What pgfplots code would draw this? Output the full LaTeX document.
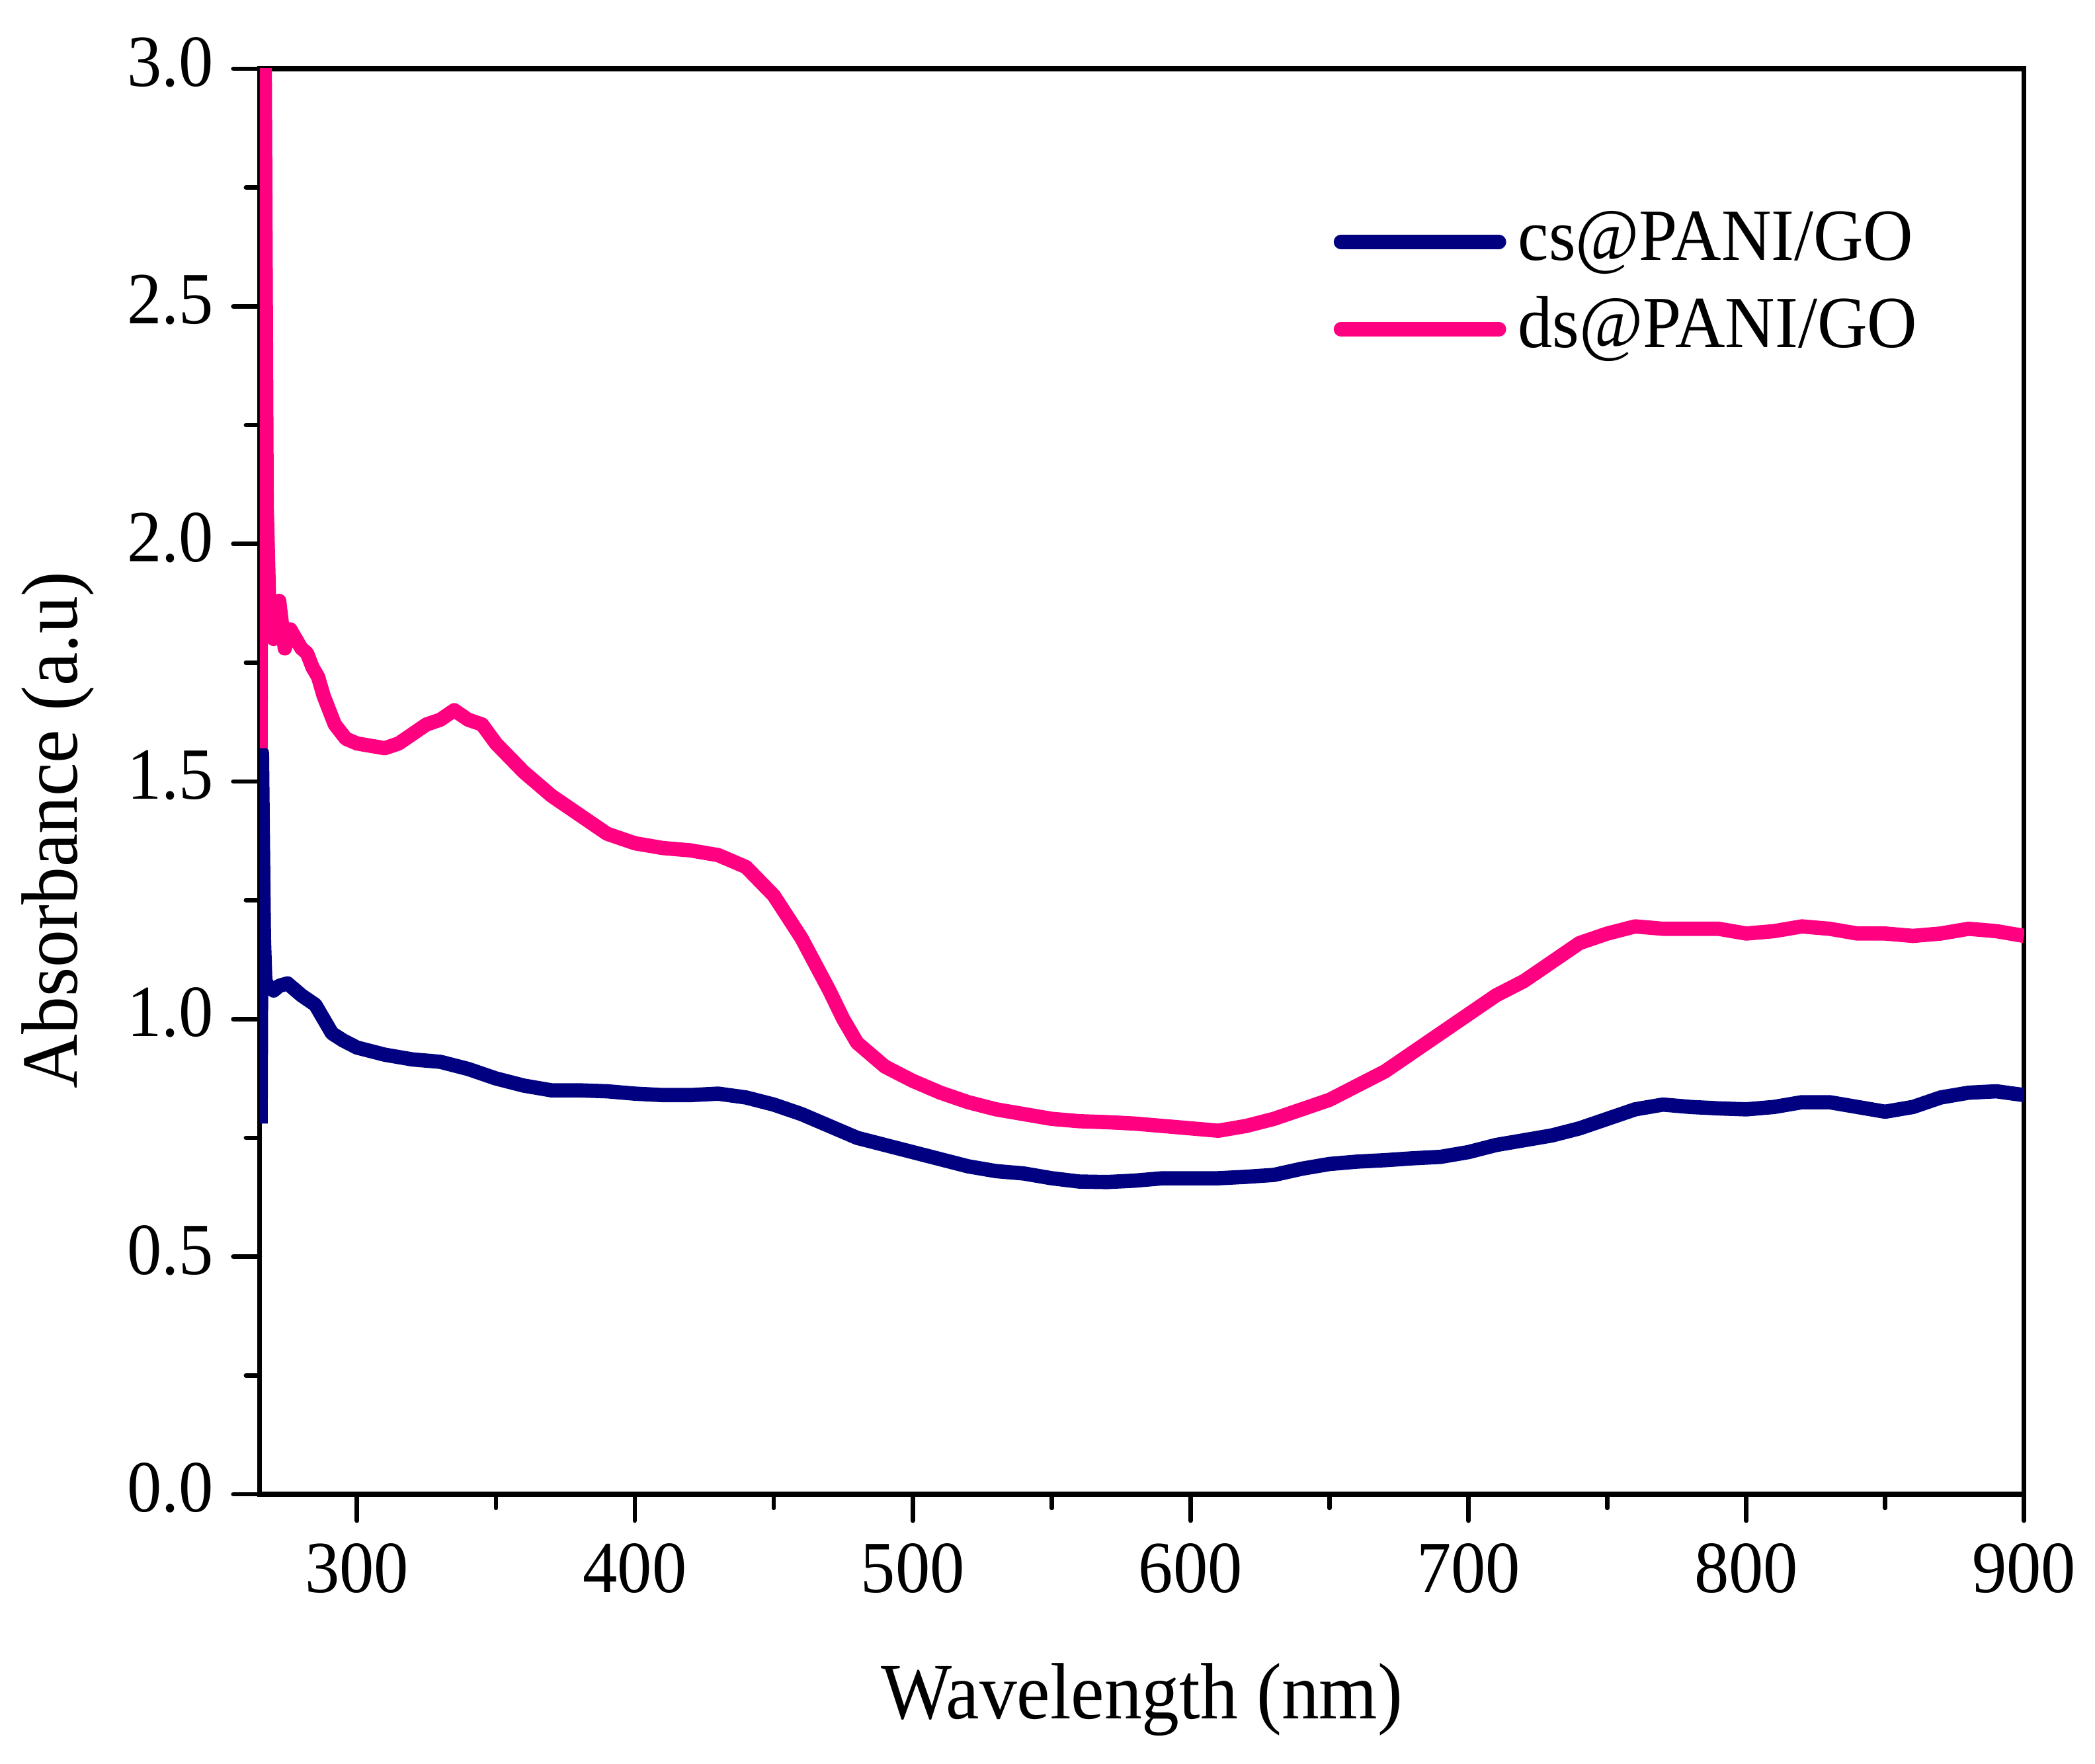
\documentclass[border=0pt]{standalone}
\usepackage{pgfplots}
\pgfplotsset{compat=1.18}
\usepackage{fontspec}
\setmainfont{Liberation Serif}[FakeStretch=0.94]
\definecolor{csblue}{RGB}{0,0,128}
\definecolor{dspink}{RGB}{255,0,128}
\begin{document}
\begin{tikzpicture}
  \begin{axis}[
    width=333.5pt, height=269.5pt, scale only axis,
    xmin=265, xmax=900, ymin=0, ymax=3,
    xtick={300,400,...,900}, ytick={0,0.5,...,3},
    minor xtick={350,450,...,850},
    minor ytick={0.25,0.75,...,2.75},
    axis line style={line width=0.9pt},
    every tick/.style={line width=0.85pt, black, line cap=round},
    tick align=outside,
    xtick pos=bottom, ytick pos=left,
    major tick length=5pt, minor tick length=2.6pt,
    /pgf/number format/assume math mode=true,
    yticklabel style={/pgf/number format/fixed, /pgf/number format/fixed zerofill,
      /pgf/number format/precision=1, font=\fontsize{13.9}{16}\selectfont,
      inner sep=0pt, xshift=-3.5pt, yshift=1.2pt},
    xticklabel style={font=\fontsize{13.9}{16}\selectfont, inner sep=0pt, yshift=-4.1pt},
    xlabel={Wavelength (nm)}, ylabel={Absorbance (a.u)},
    every axis x label/.style={at={(rel axis cs:0.5,0)}, yshift=-42.5pt, anchor=base,
      inner sep=0pt, font=\fontsize{15.1}{18}\selectfont},
    every axis y label/.style={at={(rel axis cs:0,0.466)}, xshift=-34.5pt, rotate=90,
      anchor=base, inner sep=0pt, font=\fontsize{15.1}{18}\selectfont},
    legend style={draw=none, fill=none, inner sep=0pt, outer sep=0pt,
      at={(0.6087,0.8479)}, anchor=west,
      nodes={inner sep=0pt, text height=9.5pt, text depth=2.5pt},
      font=\fontsize{13.9}{16}\selectfont, row sep=4.5pt,
      /tikz/every odd column/.append style={column sep=2.25pt}},
    legend cell align=left,
    legend image code/.code={\draw[#1, line cap=round] (1.35pt,0pt) -- (31.25pt,0pt);},
  ]
    \addplot[csblue, line width=2.7pt, line join=round] coordinates {
      (265.3,0.78) (265.8,1.56) (266.5,1.17) (267,1.08) (268,1.07) (270,1.06)
      (272,1.07) (275,1.075) (280,1.05) (285,1.03) (288,1.00) (291,0.97)
      (295,0.955) (300,0.94) (310,0.925) (320,0.915) (330,0.91) (340,0.895)
      (350,0.875) (360,0.86) (370,0.85) (380,0.85) (390,0.848) (400,0.843)
      (410,0.84) (420,0.84) (430,0.843) (440,0.835) (450,0.82) (460,0.80)
      (470,0.775) (480,0.75) (490,0.735) (500,0.72) (510,0.705) (520,0.69)
      (530,0.68) (540,0.675) (550,0.665) (560,0.658) (570,0.657) (580,0.66)
      (590,0.665) (600,0.665) (610,0.665) (620,0.668) (630,0.672) (640,0.685)
      (650,0.695) (660,0.70) (670,0.703) (680,0.707) (690,0.71) (700,0.72)
      (710,0.735) (720,0.745) (730,0.755) (740,0.77) (750,0.79) (760,0.81)
      (770,0.82) (780,0.815) (790,0.812) (800,0.81) (810,0.815) (820,0.825)
      (830,0.825) (840,0.815) (850,0.805) (860,0.815) (870,0.835) (880,0.845)
      (890,0.848) (900,0.84)
    };
    \addlegendentry{cs@PANI/GO}
    \addplot[dspink, line width=2.7pt, line join=round] coordinates {
      (265.3,1.57) (265.8,3.0) (266.8,3.0) (267.5,2.08) (268.5,1.85) (270,1.80)
      (272,1.88) (274,1.78) (276,1.82) (278,1.80) (280,1.78) (282,1.77)
      (284,1.74) (286,1.72) (288,1.68) (290,1.65) (292,1.62) (296,1.59)
      (300,1.58) (310,1.57) (315,1.58) (320,1.60) (325,1.62) (330,1.63)
      (335,1.65) (340,1.63) (345,1.62) (350,1.58) (355,1.55) (360,1.52)
      (370,1.47) (380,1.43) (390,1.39) (400,1.37) (410,1.36) (420,1.355)
      (430,1.345) (440,1.32) (450,1.26) (460,1.17) (470,1.06) (475,1.00)
      (480,0.95) (490,0.90) (500,0.87) (510,0.845) (520,0.825) (530,0.81)
      (540,0.80) (550,0.79) (560,0.785) (570,0.783) (580,0.78) (590,0.775)
      (600,0.77) (610,0.765) (620,0.775) (630,0.79) (640,0.81) (650,0.83)
      (660,0.86) (670,0.89) (680,0.93) (690,0.97) (700,1.01) (710,1.05)
      (720,1.08) (730,1.12) (740,1.16) (750,1.18) (760,1.195) (770,1.19)
      (780,1.19) (790,1.19) (800,1.18) (810,1.185) (820,1.195) (830,1.19)
      (840,1.18) (850,1.18) (860,1.175) (870,1.18) (880,1.19) (890,1.185)
      (900,1.175)
    };
    \addlegendentry{ds@PANI/GO}
  \end{axis}
  \path ([xshift=-49.1pt,yshift=13pt]current axis.north west);
  \path ([xshift=13.4pt,yshift=-51pt]current axis.south east);
\end{tikzpicture}
\end{document}
